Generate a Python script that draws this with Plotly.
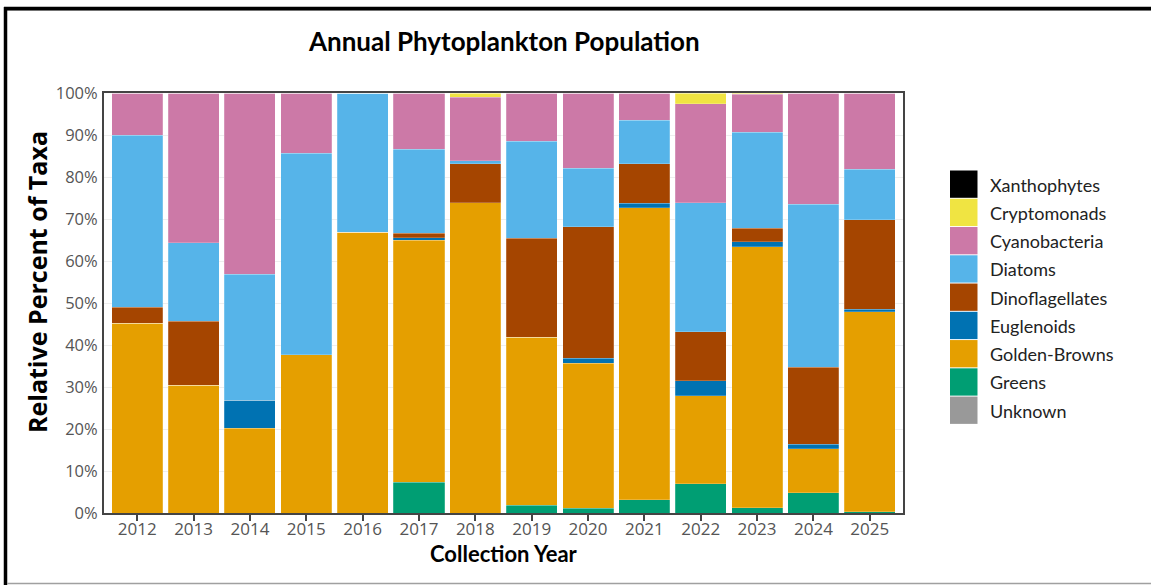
import plotly.graph_objects as go

years = ["2012", "2013", "2014", "2015", "2016", "2017", "2018",
         "2019", "2020", "2021", "2022", "2023", "2024", "2025"]

# per-group shares (%)
unknown        = [0, 0, 0, 0, 0, 0, 0, 0, 0, 0, 0, 0, 0, 0]
greens         = [0, 0, 0, 0, 0, 7.3, 0, 1.8, 1.1, 3.2, 7.0, 1.2, 4.8, 0.3]
golden_browns  = [45.2, 30.4, 20.2, 37.7, 66.9, 57.6, 73.9, 40.1, 34.5, 69.5, 20.9, 62.2, 10.5, 47.6]
euglenoids     = [0, 0, 6.6, 0, 0, 0.6, 0, 0, 1.3, 1.1, 3.6, 1.2, 1.1, 0.6]
dinoflagellates = [3.8, 15.2, 0, 0, 0, 1.1, 9.2, 23.5, 31.2, 9.3, 11.6, 3.2, 18.3, 21.3]
diatoms        = [40.9, 18.7, 30.1, 48.0, 33.1, 20.0, 0.8, 23.1, 14.0, 10.4, 30.8, 22.9, 38.8, 12.0]
cyanobacteria  = [10.1, 35.7, 43.1, 14.3, 0, 13.4, 15.1, 11.5, 17.9, 6.5, 23.6, 9.0, 26.5, 18.2]
cryptomonads   = [0, 0, 0, 0, 0, 0, 1.0, 0, 0, 0, 2.5, 0.3, 0, 0]
xanthophytes   = [0, 0, 0, 0, 0, 0, 0, 0, 0, 0, 0, 0, 0, 0]

# stacking order bottom -> top
series_names = ["Unknown", "Greens", "Golden-Browns", "Euglenoids", "Dinoflagellates",
                "Diatoms", "Cyanobacteria", "Cryptomonads", "Xanthophytes"]
series_values = [unknown, greens, golden_browns, euglenoids, dinoflagellates,
                 diatoms, cyanobacteria, cryptomonads, xanthophytes]
series_colors = ["#999999", "#009E73", "#E59F00", "#0072B2", "#A54500",
                 "#56B4E9", "#CC79A7", "#F0E442", "#000000"]

title_text = "Annual Phytoplankton Population"
x_title = "Collection Year"
y_title = "Relative Percent of Taxa"
y_ticks = [0, 10, 20, 30, 40, 50, 60, 70, 80, 90, 100]
y_ticklabels = [f"{v}%" for v in y_ticks]

W, H = 1151, 585
L, R, T, B = 104, 903, 93, 513  # plot area in px


def px_x(px):
    return (px - L) / (R - L)


def px_y(py):
    return (B - py) / (B - T)


fig = go.Figure()
for name, vals, col in zip(series_names, series_values, series_colors):
    fig.add_trace(go.Bar(
        x=years, y=vals, name=name,
        marker=dict(color=col, line=dict(color="rgba(255,255,255,0.35)", width=0.6)),
        showlegend=False,
    ))

shapes = []
annotations = []

# custom legend (top to bottom: reverse of stack order)
leg_names = series_names[::-1]
leg_colors = series_colors[::-1]
top0, pitch = 170.5, 28.26
for i, (n, c) in enumerate(zip(leg_names, leg_colors)):
    y0 = top0 + i * pitch
    shapes.append(dict(type="rect", xref="paper", yref="paper",
                       x0=px_x(950), x1=px_x(977.5), y0=px_y(y0), y1=px_y(y0 + 27.3),
                       fillcolor=c, line=dict(width=0)))
    annotations.append(dict(text=n, xref="paper", yref="paper", x=px_x(988), y=px_y(y0 + 14),
                            xanchor="left", yanchor="middle", showarrow=False,
                            font=dict(family="Lato, Open Sans, sans-serif", size=18, color="#222222")))

# outer frame
shapes.append(dict(type="line", xref="paper", yref="paper",
                   x0=px_x(4), x1=px_x(1151), y0=px_y(10.5), y1=px_y(10.5),
                   line=dict(color="#9a9a9a", width=1)))
shapes.append(dict(type="line", xref="paper", yref="paper",
                   x0=px_x(4), x1=px_x(1151), y0=px_y(8.5), y1=px_y(8.5),
                   line=dict(color="#000000", width=3.5)))
shapes.append(dict(type="line", xref="paper", yref="paper",
                   x0=px_x(5.5), x1=px_x(5.5), y0=px_y(7), y1=px_y(585),
                   line=dict(color="#000000", width=3.5)))
shapes.append(dict(type="line", xref="paper", yref="paper",
                   x0=px_x(7), x1=px_x(1151), y0=px_y(583.5), y1=px_y(583.5),
                   line=dict(color="#a0a0a0", width=1.5)))

# titles
annotations.append(dict(text=f"<b>{title_text}</b>", xref="paper", yref="paper",
                        x=px_x(503.5), y=px_y(41), xanchor="center", yanchor="middle",
                        showarrow=False, font=dict(family="Lato, sans-serif", size=26, color="#000000")))
annotations.append(dict(text=f"<b>{x_title}</b>", xref="paper", yref="paper",
                        x=px_x(503.5), y=px_y(553), xanchor="center", yanchor="middle",
                        showarrow=False, font=dict(family="Lato, sans-serif", size=22, color="#000000")))
annotations.append(dict(text=f"<b>{y_title}</b>", xref="paper", yref="paper",
                        x=px_x(37), y=px_y(282), xanchor="center", yanchor="middle", textangle=-90,
                        showarrow=False, font=dict(family="Open Sans, sans-serif", size=25, color="#000000")))

fig.update_layout(
    width=W, height=H,
    margin=dict(l=L, r=W - R, t=T, b=H - B, pad=0),
    barmode="stack",
    bargap=0.094,
    plot_bgcolor="white",
    paper_bgcolor="white",
    shapes=shapes,
    annotations=annotations,
    showlegend=False,
)
fig.update_xaxes(
    type="category", range=[-0.59, 13.59],
    showline=True, linecolor="#444444", linewidth=2, mirror=True,
    ticks="outside", ticklen=6, tickwidth=2, tickcolor="#444444",
    ticklabelstandoff=-6,
    tickfont=dict(family="Open Sans, sans-serif", size=17, color="#555555"),
    showgrid=False,
)
fig.update_yaxes(
    range=[0, 100], tickvals=y_ticks, ticktext=y_ticklabels,
    showline=True, linecolor="#444444", linewidth=2, mirror=True,
    ticks="", ticklabelstandoff=1,
    tickfont=dict(family="Open Sans, sans-serif", size=16.5, color="#555555"),
    showgrid=True, gridcolor="#EEEEEE", gridwidth=1, zeroline=False,
)

fig.write_html("out.html", config={"displayModeBar": False},
               post_script="document.body.style.margin='0';document.body.style.overflow='hidden';")
